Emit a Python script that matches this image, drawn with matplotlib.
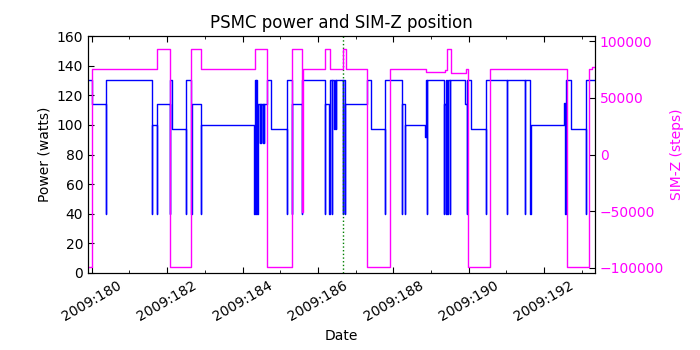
import matplotlib
matplotlib.use("Agg")
import matplotlib.pyplot as plt
from matplotlib.ticker import MultipleLocator, FuncFormatter

# PSMC power (watts), step changes: day of 2009, value
power_days = [179.90, 180.00, 180.38, 180.39, 181.59, 181.60, 181.73, 181.74,
              182.07, 182.08, 182.14, 182.49, 182.50, 182.64, 182.65, 182.90,
              182.91, 184.31, 184.32, 184.36, 184.37, 184.39, 184.40, 184.45,
              184.46, 184.49, 184.50, 184.53, 184.54, 184.57, 184.58, 184.64,
              184.75, 185.17, 185.18, 185.31, 185.32, 185.58, 185.59, 186.19,
              186.20, 186.30, 186.31, 186.36, 186.37, 186.43, 186.44, 186.48,
              186.49, 186.66, 186.67, 186.71, 186.72, 187.29, 187.42, 187.78,
              187.79, 188.22, 188.23, 188.30, 188.31, 188.84, 188.86, 188.88,
              188.89, 189.34, 189.35, 189.40, 189.41, 189.43, 189.44, 189.50,
              189.51, 189.91, 189.95, 189.96, 190.06, 190.46, 190.47, 191.01,
              191.02, 191.48, 191.49, 191.63, 191.64, 192.52, 192.56, 192.57,
              192.72, 193.11, 193.12, 193.40]
power_watts = [130, 114, 40, 130, 40, 100, 40, 114,
               40, 130, 97, 40, 130, 40, 114, 40,
               100, 40, 130, 40, 130, 40, 114, 88,
               114, 88, 114, 88, 114, 88, 114, 130,
               97, 40, 130, 40, 114, 40, 130, 40,
               114, 40, 130, 40, 130, 97, 130, 97,
               130, 40, 130, 40, 114, 130, 97, 40,
               130, 40, 114, 40, 100, 92, 130, 40,
               130, 40, 114, 40, 130, 40, 130, 40,
               130, 114, 40, 130, 97, 40, 130, 40,
               130, 40, 130, 40, 100, 115, 40, 130,
               97, 40, 130, 130]

# SIM-Z position (steps)
simz_days = [179.90, 180.00, 181.74, 182.08, 182.63, 182.90, 184.33, 184.66,
             185.31, 185.59, 185.60, 186.19, 186.31, 186.67, 186.75, 187.29,
             187.91, 188.87, 189.37, 189.42, 189.52, 189.93, 189.99, 190.57,
             192.60, 193.20, 193.27, 193.40]
simz_steps = [-99616, 75624, 92904, -99616, 92904, 75624, 92904, -99616,
              92904, -50504, 75624, 92904, 75624, 92904, 75624, -99616,
              75624, 72500, 74500, 92904, 71600, 75624, -99616, 75624,
              -99616, 75624, 77000, 77000]

marker_day = 186.67
major_days = [180, 182, 184, 186, 188, 190, 192]

plt.rcParams["font.size"] = 10

fig = plt.figure(figsize=(7, 3.5), dpi=100)
ax = fig.add_axes([88 / 700, 77 / 350, 507 / 700, 237 / 350])
ax2 = ax.twinx()

ax.plot(power_days, power_watts, drawstyle="steps-post", color="b", lw=1)
ax2.plot(simz_days, simz_steps, drawstyle="steps-post", color="#ff00ff", lw=1)
ax.axvline(marker_day, color="g", ls=":", lw=1)

ax.set_xlim(179.90, 193.35)
ax.set_ylim(0, 160)
ax2.set_ylim(-104500, 104500)

ax.xaxis.set_major_locator(plt.FixedLocator(major_days))
ax.xaxis.set_minor_locator(MultipleLocator(1))
ax.xaxis.set_major_formatter(FuncFormatter(lambda v, p: "2009:%03d" % int(round(v))))
ax.yaxis.set_major_locator(MultipleLocator(20))
ax2.yaxis.set_major_locator(MultipleLocator(50000))

ax.tick_params(which="both", direction="in", top=True)
ax.tick_params(which="major", length=4.5)
ax.tick_params(which="minor", length=2.5)
ax2.tick_params(direction="in", length=4.5, colors="#ff00ff")
ax2.spines["right"].set_color("black")
ax2.tick_params(axis="y", color="black")

for lbl in ax.get_xticklabels():
    lbl.set_rotation(30)
    lbl.set_ha("center")

ax.set_title("PSMC power and SIM-Z position", fontsize=12)
ax.set_xlabel("Date")
ax.set_ylabel("Power (watts)")
ax2.set_ylabel("SIM-Z (steps)", color="#ff00ff")

fig.savefig("out.png", dpi=100)
